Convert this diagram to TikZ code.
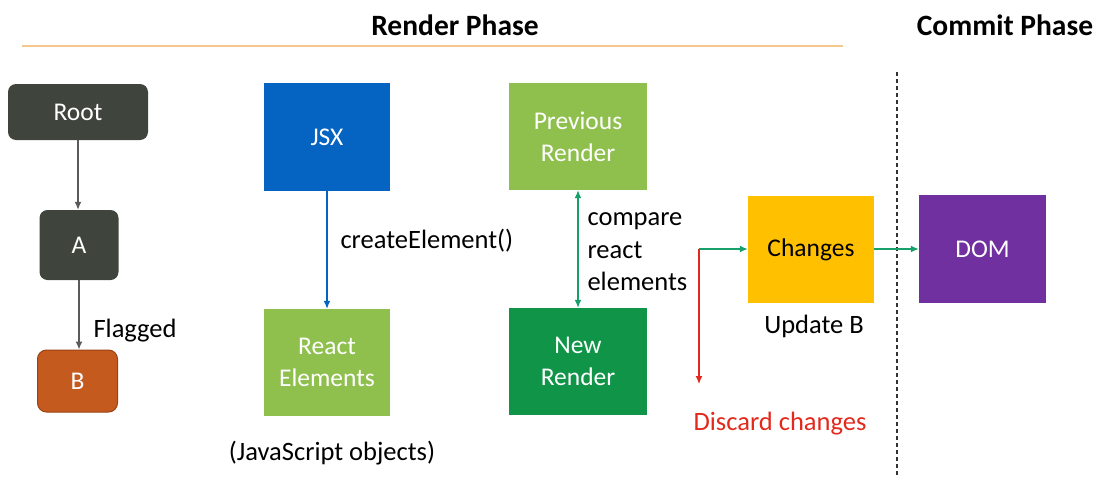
\documentclass[tikz,border=0pt]{standalone}
\usepackage{fontspec}
\setmainfont{Carlito}
\usetikzlibrary{arrows.meta}
\definecolor{treegray}{HTML}{3F453D}
\definecolor{flagorange}{HTML}{C55A1E}
\definecolor{flagedge}{HTML}{9A4212}
\definecolor{jsxblue}{HTML}{0563C1}
\definecolor{lightgreen}{HTML}{8FC04E}
\definecolor{darkgreen}{HTML}{0F9448}
\definecolor{changeyellow}{HTML}{FFC000}
\definecolor{dompurple}{HTML}{7030A0}
\definecolor{phaseline}{HTML}{F2C88C}
\definecolor{linkgreen}{HTML}{17A06A}
\definecolor{discardred}{HTML}{E3281C}
\definecolor{linkgray}{HTML}{5A5A5A}
\begin{document}
\begin{tikzpicture}[x=1pt,y=-1pt,
  txt/.style={font=\fontsize{26.5}{32}\selectfont},
  box/.style={font=\fontsize{25.5}{30}\selectfont, text=white, inner sep=0pt, align=center, draw=none},
  treebox/.style={box, fill=treegray, rounded corners=8pt},
  link/.style={line width=1.3pt, -{Latex[length=8pt,width=7pt]}},
  title/.style={font=\fontsize{29.5}{34}\selectfont\bfseries}]
\useasboundingbox (0,0) rectangle (1101,477);

% phase headings and separators
\node[title] (render) at (455,25) {Render Phase};
\node[title] (commit) at (1005,25) {Commit Phase};
\draw[phaseline, line width=2pt] (22,46) -- (843,46);
\draw[black!80, line width=1.2pt, dash pattern=on 4pt off 3pt] (897,72) -- (897,477);

% component tree
\node[treebox, minimum width=140pt, minimum height=56pt] (root) at (78,112) {Root};
\node[treebox, minimum width=79pt, minimum height=70pt] (a) at (79,245) {A};
\node[box, fill=flagorange, draw=flagedge, line width=1pt, rounded corners=9pt,
      minimum width=80pt, minimum height=62pt] (b) at (77.5,381) {B};
\draw[link, linkgray] (root) -- (root.south |- a.north);
\draw[link, linkgray] (a) -- (a.south |- b.north);
\node[txt, anchor=west] (flag) at (90,331) {Flagged};

% JSX to React elements
\node[box, fill=jsxblue, minimum width=126pt, minimum height=108pt] (jsx) at (327,137) {JSX};
\node[box, fill=lightgreen, minimum width=126pt, minimum height=107pt] (elems) at (327,362.5) {React\\[2pt]Elements};
\draw[link, jsxblue] (jsx) -- (elems);
\node[txt, anchor=west] (create) at (337,241) {createElement()};
\node[txt] (jsobj) at (332,453) {(JavaScript objects)};

% diffing of renders
\node[box, fill=lightgreen, minimum width=138pt, minimum height=107pt] (prev) at (578,136.5) {Previous\\[2pt]Render};
\node[box, fill=darkgreen, minimum width=138pt, minimum height=107pt] (new) at (578,361.5) {New\\[2pt]Render};
\draw[link, linkgreen, {Latex[length=8pt,width=7pt]}-{Latex[length=8pt,width=7pt]}] (prev) -- (new);
\node[txt, anchor=west, align=left, font=\fontsize{26.5}{32.5}\selectfont] (compare) at (584,252) {compare\\react\\elements};

% outcome of the comparison
\node[box, text=black, fill=changeyellow, minimum width=126pt, minimum height=107pt] (changes) at (811,249.5) {Changes};
\node[box, fill=dompurple, minimum width=127pt, minimum height=108pt] (dom) at (982.5,249) {DOM};
\coordinate (fork) at (699,249);
\coordinate (drop) at (699,384);
\draw[link, linkgreen] (fork) -- (changes.west |- fork);
\draw[link, discardred] (fork) -- (drop);
\draw[link, linkgreen] (changes.east |- fork) -- (dom.west |- fork);
\node[txt] (update) at (814,326) {Update B};
\node[txt, text=discardred] (discard) at (780,424) {Discard changes};
\end{tikzpicture}
\end{document}
